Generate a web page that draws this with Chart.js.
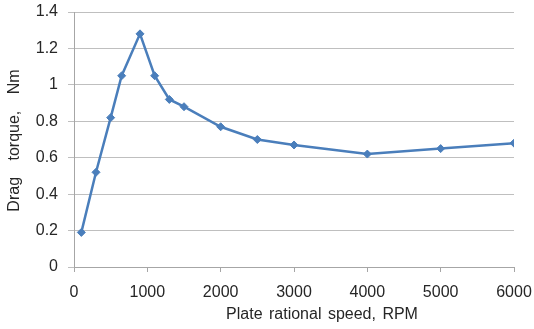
<!DOCTYPE html>
<html>
<head>
<meta charset="utf-8">
<script src="https://cdn.jsdelivr.net/npm/chart.js@4"></script>
<style>
html,body{margin:0;padding:0;background:#fff;}
#wrap{width:534px;height:329px;position:relative;}
</style>
</head>
<body>
<div id="wrap"><canvas id="c" width="534" height="329"></canvas></div>
<script>
const speedRPM = [100, 300, 500, 650, 900, 1100, 1300, 1500, 2000, 2500, 3000, 4000, 5000, 6000];
const dragTorque = [0.19, 0.52, 0.82, 1.05, 1.28, 1.05, 0.92, 0.88, 0.77, 0.70, 0.67, 0.62, 0.65, 0.68];
const xTickLabels = ['0', '1000', '2000', '3000', '4000', '5000', '6000'];
const yTickLabels = ['0', '0.2', '0.4', '0.6', '0.8', '1', '1.2', '1.4'];
const xTitle = 'Plate rational speed, RPM';
const yTitle = 'Drag torque, Nm';

const FONT = '"Liberation Sans", Arial, sans-serif';
const TEXT = '#262626';

const titlesPlugin = {
  id: 'titles',
  afterDraw(chart) {
    const ctx = chart.ctx;
    const a = chart.chartArea;
    ctx.save();
    ctx.fillStyle = TEXT;
    ctx.font = '16px ' + FONT;
    ctx.textAlign = 'center';
    ctx.textBaseline = 'middle';
    try { ctx.wordSpacing = '2px'; } catch (e) {}
    ctx.fillText(xTitle, (a.left + a.right) / 2 + 28, 315);
    ctx.translate(15, (a.top + a.bottom) / 2 + 1);
    ctx.rotate(-Math.PI / 2);
    try { ctx.wordSpacing = '12px'; } catch (e) {}
    ctx.fillText(yTitle, 0, 0);
    ctx.restore();
  }
};

new Chart(document.getElementById('c'), {
  type: 'line',
  data: {
    datasets: [{
      data: speedRPM.map((x, i) => ({ x: x, y: dragTorque[i] })),
      borderColor: '#4A7EBB',
      backgroundColor: '#4A7EBB',
      borderWidth: 2.5,
      pointStyle: 'rectRot',
      pointRadius: 4,
      pointHoverRadius: 4,
      pointBorderWidth: 1,
      tension: 0,
      fill: false
    }]
  },
  options: {
    responsive: false,
    animation: false,
    devicePixelRatio: 1,
    layout: { padding: { left: 0, right: 20, top: 12, bottom: 0 } },
    plugins: { legend: { display: false }, tooltip: { enabled: false } },
    scales: {
      x: {
        type: 'linear',
        min: 0, max: 6000,
        afterFit(s) { s.height = 62; s.paddingLeft = 0; s.paddingRight = 0; },
        ticks: {
          stepSize: 1000,
          color: TEXT,
          font: { family: FONT, size: 16 },
          padding: 11,
          maxRotation: 0,
          callback: (v, i) => xTickLabels[i]
        },
        grid: { drawOnChartArea: false, drawTicks: true, tickLength: 5, color: '#A6A6A6' },
        border: { display: true, color: '#A6A6A6', width: 1 }
      },
      y: {
        min: 0, max: 1.4,
        afterFit(s) { s.width = 74; s.paddingTop = 0; s.paddingBottom = 0; },
        ticks: {
          stepSize: 0.2,
          color: TEXT,
          font: { family: FONT, size: 16 },
          padding: 10,
          callback: (v, i) => yTickLabels[i]
        },
        grid: { color: '#BFBFBF', tickLength: 6, drawTicks: true },
        border: { display: true, color: '#A6A6A6', width: 1 }
      }
    }
  },
  plugins: [titlesPlugin]
});
</script>
</body>
</html>
